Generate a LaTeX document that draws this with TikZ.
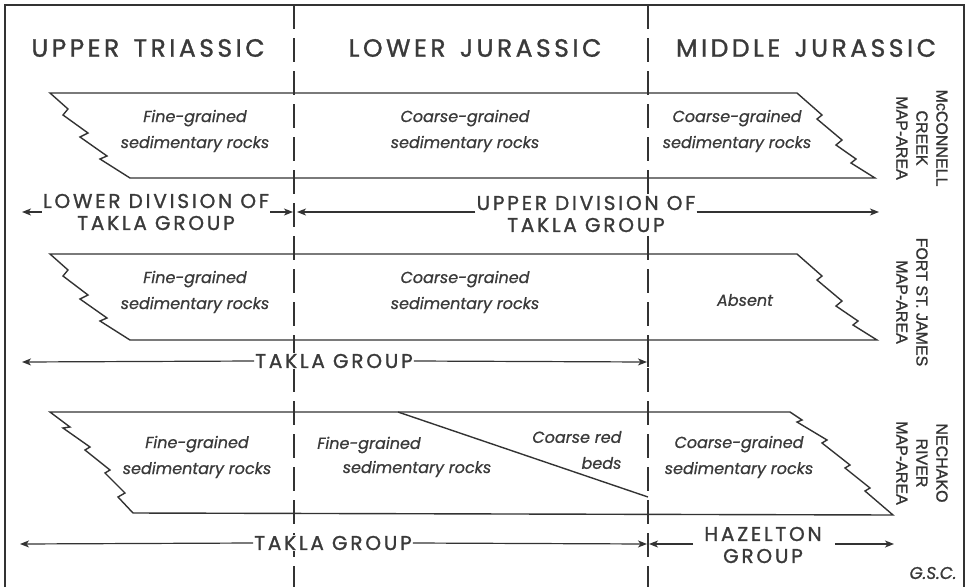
\documentclass[tikz,border=0pt]{standalone}
\usepackage{fontspec}
\setmainfont{Poppins}
\newfontfamily\headfont{Poppins}[LetterSpace=14,FakeBold=1.2]
\newfontfamily\capsfont{Poppins}[LetterSpace=14,FakeBold=1.2]
\newfontfamily\rockfont{Poppins}[FakeBold=0.8,ItalicFeatures={FakeBold=0.8}]
\newfontfamily\areafont{Liberation Sans}[FakeBold=1.2]
\usetikzlibrary{arrows.meta}
\definecolor{ink}{HTML}{333333}
\definecolor{txt}{HTML}{3A3A3A}
\tikzset{
  band/.style={draw=ink,line width=1.4pt,line join=miter},
  period/.style={draw=ink,line width=1.3pt,dash pattern=on 24pt off 9pt},
  arr/.style={draw=ink,line width=1.2pt,-{Stealth[length=9pt,width=7pt,inset=2.5pt]}},
  head/.style={text=txt,font=\headfont\fontsize{25}{28}\selectfont},
  grp/.style={text=txt,font=\capsfont\fontsize{20}{22}\selectfont,align=center,fill=white,inner sep=1pt},
  rock/.style={text=txt,font=\rockfont\itshape\fontsize{16}{26}\selectfont,align=center},
  area/.style={text=ink,font=\areafont\fontsize{16}{20}\selectfont,align=center,rotate=-90}
}
\begin{document}
\begin{tikzpicture}[x=1pt,y=-1pt]
\useasboundingbox (0,0) rectangle (970,587);
% frame and period boundaries
\draw[draw=ink,line width=1.3pt] (5,587) -- (5,5) -- (964,5) -- (964,587);
\draw[period] (294,5) -- (294,587);
\draw[period] (648,5) -- (648,587);
\draw[draw=ink,line width=1.3pt] (648,340) -- (648,367);

% headings
\node[head] (trias) at (148,48) {UPPER\, TRIASSIC};
\node[head] (ljur) at (475,48) {LOWER\, JURASSIC};
\node[head] (mjur) at (806,48) {MIDDLE\, JURASSIC};

% McConnell Creek
\draw[band] (50,93) -- (797,93) -- ++(25,22) -- ++(-5,4) -- ++(25,21) -- ++(-6,5)
  -- ++(20,14) -- ++(-5,4) -- ++(24,15) -- (130,178) -- ++(-30,-19) -- ++(7,-3)
  -- ++(-27,-19) -- ++(8,-4) -- ++(-25,-18) -- ++(5,-6) -- cycle;
\node[rock] (mc1) at (195,131) {Fine-grained\\sedimentary rocks};
\node[rock] (mc2) at (465,131) {Coarse-grained\\sedimentary rocks};
\node[rock] (mc3) at (737,131) {Coarse-grained\\sedimentary rocks};
\node[area] (mcarea) at (922,138) {McCONNELL\\CREEK\\MAP-AREA};

% divisions of Takla Group
\node[grp] (ldiv) at (156,212) {LOWER DIVISION OF\\TAKLA GROUP};
\node[grp] (udiv) at (586,214) {UPPER DIVISION OF\\TAKLA GROUP};
\coordinate (lda) at (22,212);
\coordinate (ldb) at (293,212);
\coordinate (uda) at (297,212);
\coordinate (udb) at (879,212);
\draw[arr] (ldiv.west) -- (lda);
\draw[arr] (ldiv.east) -- (ldb);
\draw[arr] (udiv.west |- uda) -- (uda);
\draw[arr] (udiv.east |- udb) -- (udb);

% Fort St. James
\draw[band] (50,254) -- (797,254) -- ++(25,22) -- ++(-5,4) -- ++(25,21) -- ++(-6,5)
  -- ++(22,15) -- ++(-5,4) -- ++(24,15) -- (130,340) -- ++(-30,-19) -- ++(7,-3)
  -- ++(-27,-19) -- ++(8,-4) -- ++(-25,-19) -- ++(5,-6) -- cycle;
\node[rock] (fj1) at (195,292) {Fine-grained\\sedimentary rocks};
\node[rock] (fj2) at (465,292) {Coarse-grained\\sedimentary rocks};
\node[rock] (fj3) at (745,300) {Absent};
\node[area] (fjarea) at (912,302) {FORT ST. JAMES\\MAP-AREA};

\node[grp] (tk1) at (334,361) {TAKLA GROUP};
\coordinate (tk1a) at (22,362);
\coordinate (tk1b) at (647,362);
\draw[arr] (tk1.west) -- (tk1a);
\draw[arr] (tk1.east) -- (tk1b);

% Nechako River
\draw[band] (50,412) -- (790,412) -- ++(12,8) -- ++(-5,2) -- ++(30,18) -- ++(-5,3)
  -- ++(28,22) -- ++(-5,3) -- ++(25,20) -- ++(-5,3) -- ++(28,24) -- (133,513)
  -- ++(-15,-16) -- ++(7,-4) -- ++(-20,-20) -- ++(5,-3) -- ++(-25,-20) -- ++(5,-3)
  -- ++(-27,-19) -- ++(7,-1) -- cycle;
\draw[band] (398,412) -- (648,497);
\node[rock] (nr1) at (197,457) {Fine-grained\\sedimentary rocks};
\node[rock] (nr2) at (369,445) {Fine-grained};
\node[rock] (nr3) at (417,469) {sedimentary rocks};
\node[rock,align=right,anchor=east] (nr4) at (625,450) {Coarse red\\beds};
\node[rock] (nr5) at (739,457) {Coarse-grained\\sedimentary rocks};
\node[area] (nrarea) at (922,463) {NECHAKO\\RIVER\\MAP-AREA};

\node[grp] (tk2) at (333,543) {TAKLA GROUP};
\node[grp] (hz) at (763,545) {HAZELTON\\GROUP};
\coordinate (tk2a) at (20,544);
\coordinate (tk2b) at (647,544);
\coordinate (hza) at (649,544);
\coordinate (hzb) at (894,544);
\draw[arr] (tk2.west) -- (tk2a);
\draw[arr] (tk2.east) -- (tk2b);
\draw[arr] (hz.west |- hza) ++(-10,0) -- (hza);
\draw[arr] (hz.east |- hzb) ++(12,0) -- (hzb);

\node[rock,anchor=east,font=\rockfont\itshape\fontsize{17}{20}\selectfont] (gsc) at (960,573) {G.S.C.};
\end{tikzpicture}
\end{document}
